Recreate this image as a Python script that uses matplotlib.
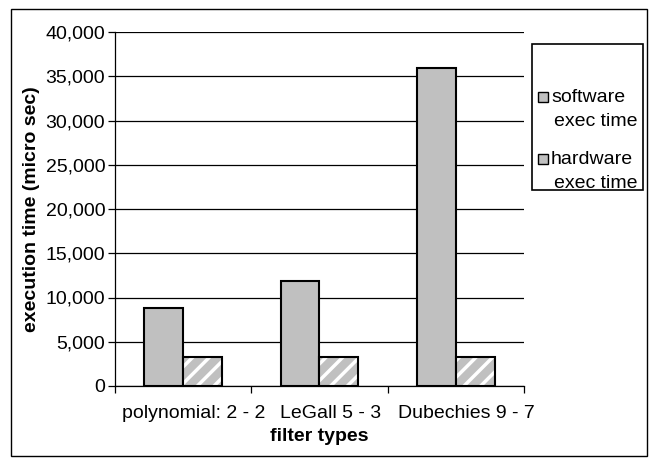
import numpy as np
import matplotlib.pyplot as plt
import matplotlib.transforms as mtransforms
from matplotlib.patches import Rectangle
from matplotlib.ticker import FuncFormatter

plt.rcParams["font.family"] = ["Liberation Sans", "DejaVu Sans"]
plt.rcParams["hatch.linewidth"] = 2.5

categories = ["polynomial: 2 - 2", "LeGall 5 - 3", "Dubechies 9 - 7"]
software_time = [8850, 11850, 35900]
hardware_time = [3300, 3300, 3300]
legend_labels = ["software\nexec time", "hardware\nexec time"]

W, H = 649, 458
FS = 14
fig = plt.figure(figsize=(W / 100, H / 100), dpi=100)


def fx(px):
    return px / W


def fy(py):
    return 1 - py / H


ax = fig.add_axes([fx(115), fy(386), fx(524) - fx(115), fy(32) - fy(386)])

x = np.arange(len(categories))
bw = 1 / 3.5
gray = "#C0C0C0"

ax.bar(x - bw / 2, software_time, bw, color=gray, edgecolor="black", linewidth=1.5, zorder=3)
# hatched hardware bars: white stripes first, black outline on top
ax.bar(x + bw / 2, hardware_time, bw, color=gray, edgecolor="white", hatch="//", linewidth=0, zorder=3)
ax.bar(x + bw / 2, hardware_time, bw, fill=False, edgecolor="black", linewidth=1.5, zorder=4)

ax.set_xlim(-0.5, len(categories) - 0.5)
ax.set_ylim(0, 40000)
ax.set_yticks(np.arange(0, 40001, 5000))
ax.yaxis.set_major_formatter(FuncFormatter(lambda v, p: f"{int(v):,}"))
ax.grid(axis="y", color="black", linewidth=0.9, zorder=0)

ax.set_xticks(x)
ax.set_xticklabels(categories)
ax.set_xticks(np.arange(-0.5, len(categories)), minor=True)
ax.tick_params(axis="x", which="major", length=0, pad=14, labelsize=FS)
ax.tick_params(axis="x", which="minor", length=5, width=0.9, direction="out")
ax.tick_params(axis="y", length=5, width=0.9, direction="out", labelsize=FS, pad=2)

shift = mtransforms.ScaledTranslation(11 / 100, 0, fig.dpi_scale_trans)
for lbl in ax.get_xticklabels():
    lbl.set_transform(lbl.get_transform() + shift)

for side in ["top", "right"]:
    ax.spines[side].set_visible(False)
for side in ["left", "bottom"]:
    ax.spines[side].set_linewidth(0.9)

ax.set_xlabel("filter types", fontsize=FS, fontweight="bold", labelpad=4)
ax.set_ylabel("execution time (micro sec)", fontsize=FS, fontweight="bold", labelpad=4)

# legend box
fig.patches.append(Rectangle((fx(532), fy(190)), fx(643) - fx(532), fy(44) - fy(190),
                             transform=fig.transFigure, fill=False, edgecolor="black", linewidth=1.2))
for lab, yy in zip(legend_labels, [97, 159]):
    fig.patches.append(Rectangle((fx(538), fy(yy + 5)), fx(548) - fx(538), fy(yy - 5) - fy(yy + 5),
                                 transform=fig.transFigure, facecolor=gray, edgecolor="black", linewidth=1))
    first, second = lab.split("\n")
    fig.text(fx(551), fy(yy), first, fontsize=FS, va="center", ha="left")
    fig.text(fx(554), fy(yy + 24), second, fontsize=FS, va="center", ha="left")

# outer chart frame
fig.patches.append(Rectangle((fx(11), fy(456)), fx(647) - fx(11), fy(9) - fy(456),
                             transform=fig.transFigure, fill=False, edgecolor="black", linewidth=1))

fig.savefig("out.png", dpi=100)
